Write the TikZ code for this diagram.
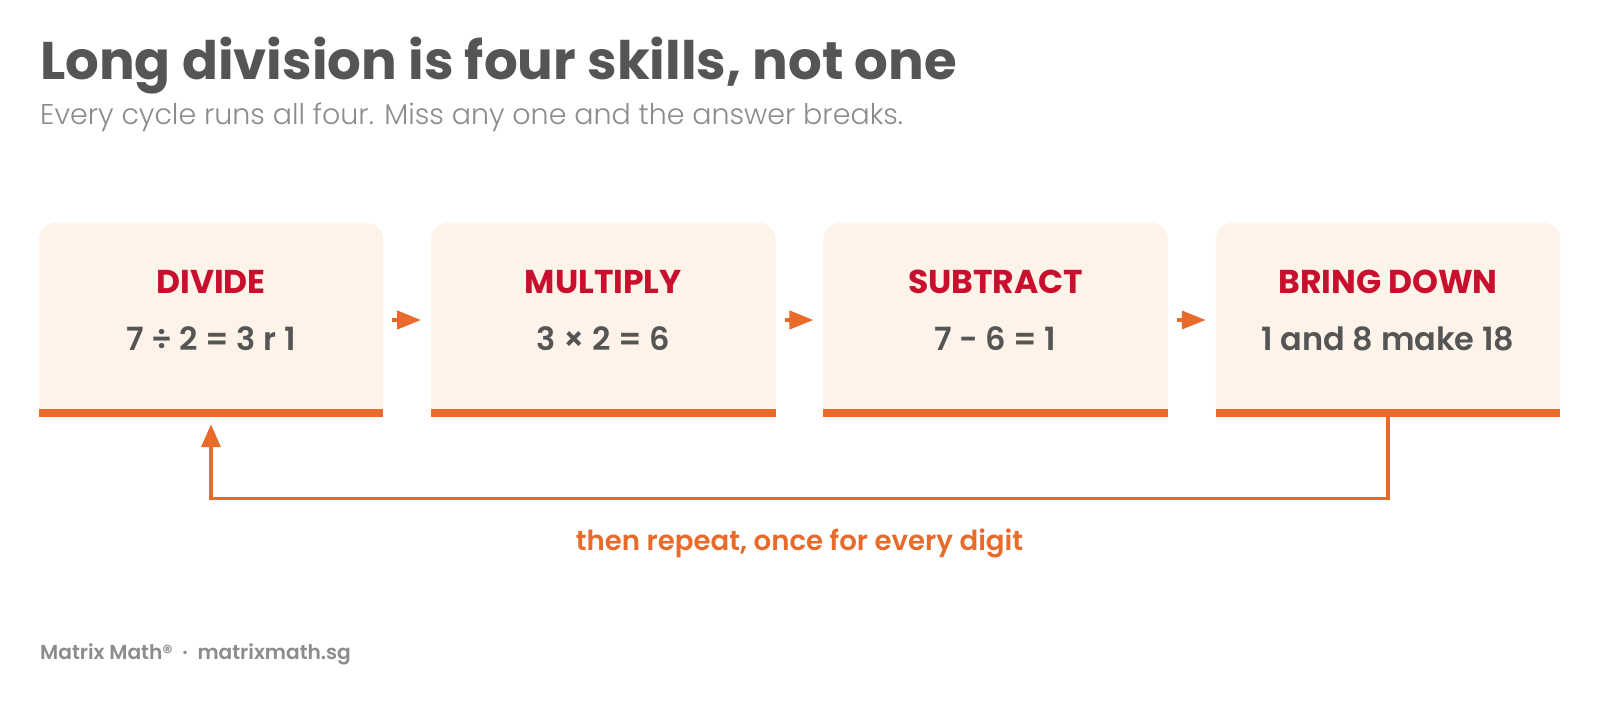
\documentclass[tikz,border=0pt]{standalone}
\usepackage{fontspec}
\setmainfont{Poppins}
\newfontfamily\semibold{Poppins SemiBold}
\newfontfamily\lightfont{Poppins Light}
\usetikzlibrary{arrows.meta}
\definecolor{ink}{HTML}{555555}
\definecolor{softgray}{HTML}{8C8C8C}
\definecolor{cardred}{HTML}{C8102E}
\definecolor{accent}{HTML}{E96B2B}
\definecolor{cream}{HTML}{FDF3E8}
\tikzset{
  card/.style={minimum width=344pt,minimum height=194pt,inner sep=0pt},
  cardhead/.style={anchor=base,text=cardred,font=\bfseries\fontsize{33}{38}\selectfont},
  cardbody/.style={anchor=base,text=ink,font=\semibold\fontsize{32}{38}\selectfont},
  flow/.style={draw=accent,line width=4pt,-{Triangle[length=24pt,width=18pt]}},
  loopback/.style={draw=accent,line width=3.5pt,-{Triangle[length=23pt,width=19pt]}},
}
\begin{document}
\begin{tikzpicture}[x=1pt,y=-1pt]
\useasboundingbox[fill=white](0,0)rectangle(1600,701);
\node[anchor=base west,text=ink,font=\bfseries\fontsize{53}{60}\selectfont,inner sep=0pt](title)at(40,79){Long division is four skills, not one};
\node[anchor=base west,text=softgray,font=\lightfont\fontsize{28.5}{34}\selectfont,inner sep=0pt](subtitle)at(40,124){Every cycle runs all four. Miss any one and the answer breaks.};
%
\foreach \name/\head/\body [count=\i from 0] in {divide/DIVIDE/{7 ÷ 2 = 3 r 1},multiply/MULTIPLY/{3 × 2 = 6},subtract/SUBTRACT/{7 − 6 = 1},bringdown/BRING DOWN/{1 and 8 make 18}}{
  \node[card](\name)at(211+\i*392.33,320){};
  \fill[cream]([yshift=8pt]\name.south west)[rounded corners=17pt]--(\name.north west)--(\name.north east)[sharp corners]--([yshift=8pt]\name.south east)--cycle;
  \fill[accent](\name.south west)rectangle([yshift=8pt]\name.south east);
  \node[cardhead](\name-head)at([yshift=27pt]\name.center){\head};
  \node[cardbody](\name-body)at([yshift=-30pt]\name.center){\body};
}
%
\draw[flow]([xshift=9pt]divide.east)--([xshift=-10pt]multiply.west);
\draw[flow]([xshift=9pt]multiply.east)--([xshift=-10pt]subtract.west);
\draw[flow]([xshift=9pt]subtract.east)--([xshift=-10pt]bringdown.west);
\draw[loopback](bringdown.south)--++(0,81.5)-|([yshift=-7pt]divide.south);
\node[anchor=base,text=accent,font=\semibold\fontsize{27.6}{32}\selectfont](repeat)at(799.5,550){then repeat, once for every digit};
%
\node[anchor=base west,text=softgray,font=\semibold\fontsize{20.2}{24}\selectfont,inner sep=0pt](footer)at(40,659){Matrix Math®\ \ ·\ \ matrixmath.sg};
\end{tikzpicture}
\end{document}
